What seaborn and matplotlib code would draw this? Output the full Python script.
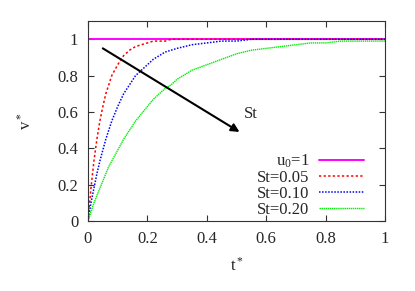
import pandas as pd
import matplotlib
matplotlib.use('Agg')
import matplotlib.pyplot as plt
import seaborn as sns

# values
t = [0, 0.01, 0.02, 0.03, 0.04, 0.05, 0.06, 0.07, 0.08, 0.09, 0.1,
     0.12, 0.14, 0.16, 0.18, 0.2, 0.22, 0.24, 0.26, 0.28, 0.3,
     0.35, 0.4, 0.45, 0.5, 0.55, 0.6, 0.65, 0.7, 0.75, 0.8, 0.85, 0.9, 0.95, 1.0]
u0 = [1] * len(t)
st005 = [0, 0.18, 0.33, 0.45, 0.55, 0.63, 0.70, 0.75, 0.80, 0.83, 0.86,
         0.91, 0.94, 0.96, 0.97, 0.98, 0.99, 0.99, 0.99, 1.0, 1.0,
         1.0, 1.0, 1.0, 1.0, 1.0, 1.0, 1.0, 1.0, 1.0, 1.0, 1.0, 1.0, 1.0, 1.0]
st010 = [0, 0.10, 0.18, 0.26, 0.33, 0.39, 0.45, 0.50, 0.55, 0.59, 0.63,
         0.70, 0.75, 0.80, 0.83, 0.86, 0.89, 0.91, 0.93, 0.94, 0.95,
         0.97, 0.98, 0.99, 0.99, 1.0, 1.0, 1.0, 1.0, 1.0, 1.0, 1.0, 1.0, 1.0, 1.0]
st020 = [0, 0.05, 0.10, 0.14, 0.18, 0.22, 0.26, 0.30, 0.33, 0.36, 0.39,
         0.45, 0.50, 0.55, 0.59, 0.63, 0.67, 0.70, 0.73, 0.75, 0.78,
         0.83, 0.86, 0.89, 0.92, 0.94, 0.95, 0.96, 0.97, 0.98, 0.98, 0.99, 0.99, 0.99, 0.99]

labels = [r'u$_\mathregular{0}$=1', 'St=0.05', 'St=0.10', 'St=0.20']
series = [u0, st005, st010, st020]
colors = ['#ff00ff', '#ff0000', '#0000ff', '#00ee00']
styles = ['-', (0, (1.5, 1.5)), (0, (1, 1)), (0, (1, 0.5))]
widths = [1.4, 1.1, 1.1, 1.0]

sns.set_style('ticks')
plt.rcParams['font.family'] = ['Liberation Serif', 'DejaVu Serif']
plt.rcParams['mathtext.fontset'] = 'custom'
plt.rcParams['mathtext.rm'] = 'Liberation Serif'
plt.rcParams['mathtext.it'] = 'Liberation Serif:italic'

fig = plt.figure(figsize=(4.15, 2.91), dpi=100)
ax = fig.add_axes([0.212, 0.2405, 0.716, 0.687])

for lab, vals, c, ls, lw in zip(labels, series, colors, styles, widths):
    df = pd.DataFrame({'t': t, 'v': vals})
    sns.lineplot(data=df, x='t', y='v', ax=ax, color=c, linestyle=ls,
                 linewidth=lw, label=lab, errorbar=None)

ax.annotate('', xy=(0.51, 0.49), xytext=(0.05, 0.95),
            arrowprops=dict(arrowstyle='-|>', color='black', lw=1.5,
                            mutation_scale=12, shrinkA=0, shrinkB=0))
ax.text(0.525, 0.59, 'St', fontsize=12, ha='left', va='center')

ax.set_xlim(0, 1)
ax.set_ylim(0, 1.1)
ax.set_xticks([0, 0.2, 0.4, 0.6, 0.8, 1])
ax.set_xticklabels(['0', '0.2', '0.4', '0.6', '0.8', '1'])
ax.set_yticks([0, 0.2, 0.4, 0.6, 0.8, 1])
ax.set_yticklabels(['0', '0.2', '0.4', '0.6', '0.8', '1'])
ax.tick_params(direction='in', top=True, right=True, length=4, width=0.8,
               labelsize=12, pad=7, color='#333333')
for s in ax.spines.values():
    s.set_linewidth(0.8)
    s.set_color('#333333')

ax.set_xlabel(r't$^*$', fontsize=12)
ax.set_ylabel(r'v$^*$', fontsize=12)
ax.xaxis.set_label_coords(0.5, -0.18)
ax.yaxis.set_label_coords(-0.18, 0.5)

ax.legend(loc='lower right', bbox_to_anchor=(0.93, 0.015), frameon=False,
          markerfirst=False, fontsize=12, handlelength=2.7,
          handletextpad=0.6, labelspacing=0.0, borderaxespad=0,
          borderpad=0)

fig.savefig('out.png', dpi=100)
